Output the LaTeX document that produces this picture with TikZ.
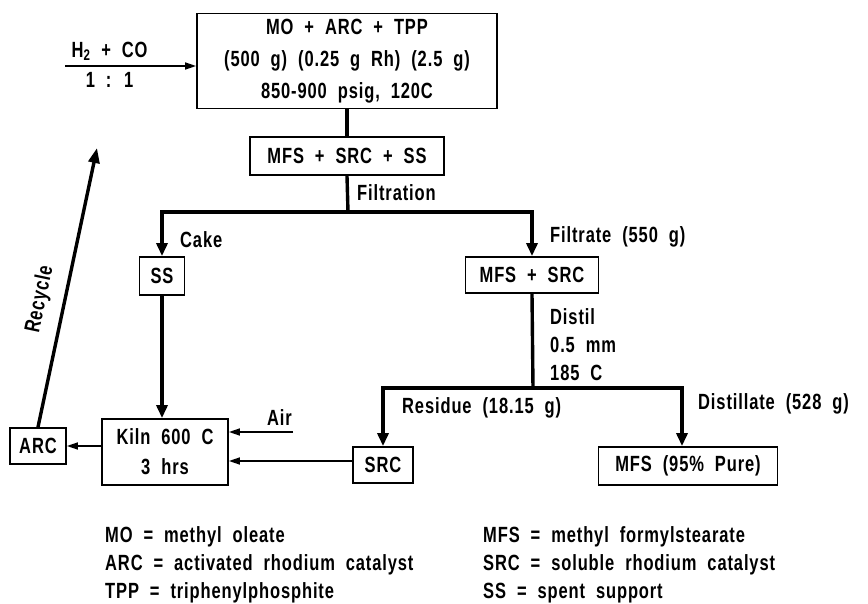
\documentclass[tikz,border=0pt]{standalone}
\usepackage{fontspec}
\setmainfont{Liberation Sans}[UprightFont=* Bold,BoldFont=* Bold,FakeStretch=0.75,LetterSpace=4,WordSpace=2]
\usetikzlibrary{positioning, calc, arrows.meta}
\tikzset{
    box/.style={draw, line width=1.8pt, inner sep=0pt, align=center},
    flow/.style={line width=3.4pt},
    flowarr/.style={flow, -{Triangle[length=13pt,width=11pt]}},
    sidearr/.style={line width=1.6pt, -{Triangle[length=11pt,width=7pt]}},
    lbl/.style={anchor=west, inner sep=0pt},
}
\begin{document}
\begin{tikzpicture}[x=1pt,y=-1pt,font=\fontsize{22}{26}\selectfont]
        \useasboundingbox (0,0) rectangle (868,604);
        %draw boxes
        \node[box, minimum width=300, minimum height=95, font=\fontsize{22}{32}\selectfont] (react) at (347,61) {MO + ARC + TPP\\(500 g) (0.25 g Rh) (2.5 g)\\850-900 psig, 120C};
        \node[box, minimum width=194, minimum height=38] (mix) at (347,156) {MFS + SRC + SS};
        \node[box, minimum width=45, minimum height=38] (ss) at (162,276) {SS};
        \node[box, minimum width=133, minimum height=36] (mfssrc) at (532,275) {MFS + SRC};
        \node[box, minimum width=126, minimum height=66, font=\fontsize{22}{30}\selectfont] (kiln) at (165,452) {Kiln 600 C\\3 hrs};
        \node[box, minimum width=56, minimum height=36] (arc) at (38,446) {ARC};
        \node[box, minimum width=60, minimum height=36] (src) at (383,465) {SRC};
        \node[box, minimum width=179, minimum height=38] (mfs) at (688,466) {MFS (95\% Pure)};
        %draw free ends
        \coordinate (gasin) at (65,66);
        \coordinate (fil) at (348,212);
        \coordinate (dis) at (533,388);
        \coordinate (airin) at (293,432);
        \coordinate (rec) at (97,148);
        %draw gas feed
        \draw[sidearr] (gasin) -- (gasin -| react.west) node[pos=0.34, above=1pt] {H\textsubscript{2} + CO} node[pos=0.34, below=2pt] {1 : 1};
        %draw filtration
        \draw[flow] (react.south) -- (mix.north);
        \draw[flow] (mix.south) -- (fil);
        \node[lbl] at (357,193) {Filtration};
        \draw[flowarr] (fil) -| (ss.north);
        \draw[flowarr] (fil) -| (mfssrc.north);
        \node[lbl] at (180,240) {Cake};
        \node[lbl] at (550,237) {Filtrate (550 g)};
        %draw distillation
        \draw[flow] (mfssrc.south) -- (dis);
        \node[lbl, align=left, font=\fontsize{22}{28}\selectfont] at (550,345) {Distil\\0.5 mm\\185 C};
        \draw[flowarr] (dis) -| (src.north);
        \draw[flowarr] (dis) -| ([xshift=-6]mfs.north);
        \node[lbl] at (402,408) {Residue (18.15 g)};
        \node[lbl] at (698,404) {Distillate (528 g)};
        %draw kiln
        \draw[flowarr] (ss.south) -- (ss.south |- kiln.north);
        \node[lbl] (air) at (267,418) {Air};
        \draw[sidearr] (airin) -- (airin -| kiln.east);
        \draw[sidearr] ([yshift=4]src.west) -- ([yshift=4]src.west -| kiln.east);
        \draw[sidearr] (kiln.west |- arc.east) -- (arc.east);
        %draw recycle
        \draw[flow, -{Triangle[length=15pt,width=11pt]}] (arc.north) -- (rec) node[pos=0.44, sloped, above=9pt] {Recycle};
        %draw legend
        \node[lbl, align=left, font=\fontsize{22}{28}\selectfont] (legl) at (105,565) {MO = methyl oleate\\ARC = activated rhodium catalyst\\TPP = triphenylphosphite};
        \node[lbl, align=left, font=\fontsize{22}{28}\selectfont] (legr) at (483,565) {MFS = methyl formylstearate\\SRC = soluble rhodium catalyst\\SS = spent support};
    \end{tikzpicture}
\end{document}
